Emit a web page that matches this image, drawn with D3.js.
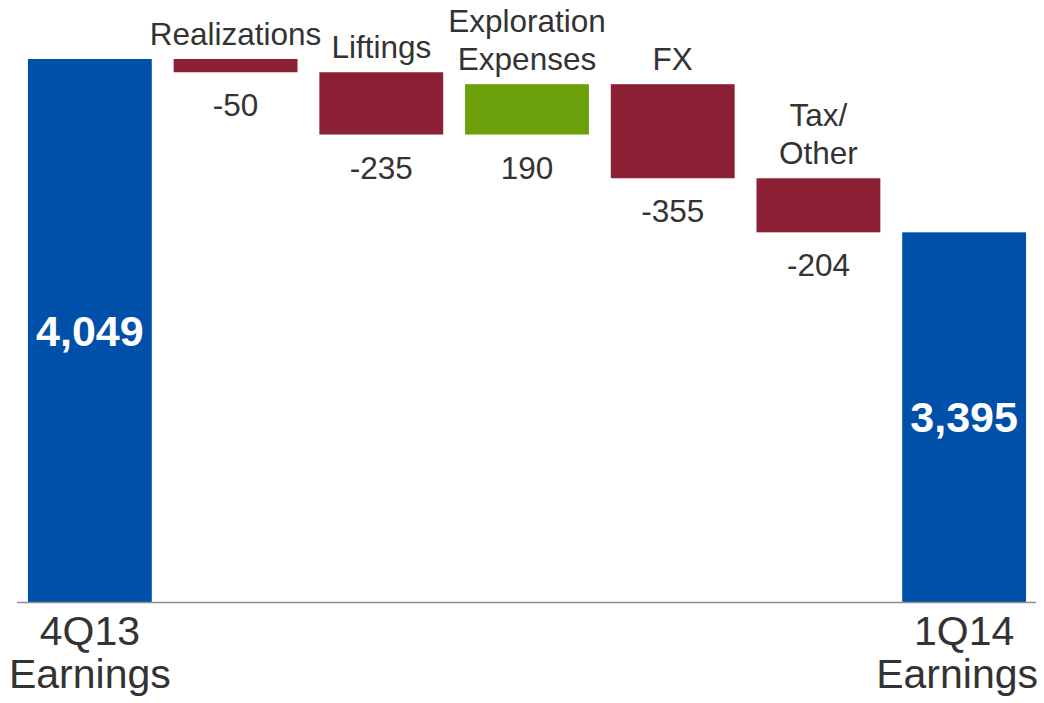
<!DOCTYPE html>
<html>
<head>
<meta charset="utf-8">
<script src="https://cdn.jsdelivr.net/npm/d3@7"></script>
<style>
  html, body { margin: 0; padding: 0; background: #fff; }
  svg { display: block; font-family: "Liberation Sans", Arial, sans-serif; }
</style>
</head>
<body>
<svg id="chart" width="1044" height="703"></svg>
<script>
// Earnings bridge, 4Q13 to 1Q14
const categories = ["4Q13 Earnings", "Realizations", "Liftings", "Exploration Expenses", "FX", "Tax/ Other", "1Q14 Earnings"];
const categoryLines = [["4Q13", "Earnings"], ["Realizations"], ["Liftings"], ["Exploration", "Expenses"], ["FX"], ["Tax/", "Other"], ["1Q14", "Earnings"]];
const values = [4049, -50, -235, 190, -355, -204, 3395];
const kinds = ["total", "delta", "delta", "delta", "delta", "delta", "total"];
const axisMin = 2000;

const colors = { total: "#0050AA", up: "#6CA00A", down: "#8B2035" };
const textColor = "#333333";
const W = 1044;

// running totals for the floating steps
let running = 0;
const bars = categories.map((c, i) => {
  const v = values[i];
  let start, end;
  if (kinds[i] === "total") { start = axisMin; end = v; running = v; }
  else { start = running; end = running + v; running = end; }
  return {
    cat: c, lines: categoryLines[i], value: v, kind: kinds[i],
    lo: Math.min(start, end), hi: Math.max(start, end)
  };
});

const svg = d3.select("#chart");
const baseY = 602;

const x = d3.scaleBand()
  .domain(categories)
  .range([17, 1037])
  .paddingInner(0.15)
  .paddingOuter(0.075);

const y = d3.scaleLinear()
  .domain([axisMin, d3.max(bars, d => d.hi)])
  .range([baseY, 59]);

// bars
svg.append("g").selectAll("rect")
  .data(bars)
  .join("rect")
  .attr("x", d => x(d.cat))
  .attr("width", x.bandwidth())
  .attr("y", d => y(d.hi))
  .attr("height", d => y(d.lo) - y(d.hi))
  .attr("fill", d => d.kind === "total" ? colors.total : (d.value >= 0 ? colors.up : colors.down));

// baseline
svg.append("line")
  .attr("x1", 17).attr("x2", 1036)
  .attr("y1", baseY + 0.5).attr("y2", baseY + 0.5)
  .attr("stroke", "#8c8c8c")
  .attr("stroke-width", 1.5);

const cx = d => x(d.cat) + x.bandwidth() / 2;
const deltas = bars.filter(d => d.kind === "delta");
const totals = bars.filter(d => d.kind === "total");

// step names above each floating bar
const nameFs = 31.5, nameLh = 38;
svg.append("g").selectAll("text")
  .data(deltas)
  .join("text")
  .attr("text-anchor", "middle")
  .attr("font-size", nameFs)
  .attr("fill", textColor)
  .each(function(d) {
    const t = d3.select(this);
    const n = d.lines.length;
    d.lines.forEach((ln, k) => {
      t.append("tspan")
        .attr("x", cx(d))
        .attr("y", y(d.hi) - 14 - (n - 1 - k) * nameLh)
        .text(ln);
    });
  });

// step values below each floating bar
svg.append("g").selectAll("text")
  .data(deltas)
  .join("text")
  .attr("x", cx)
  .attr("y", d => y(d.lo) + 44)
  .attr("text-anchor", "middle")
  .attr("font-size", 31.5)
  .attr("fill", textColor)
  .text(d => String(d.value));

// total values inside the end bars
const fmt = d3.format(",");
svg.append("g").selectAll("text")
  .data(totals)
  .join("text")
  .attr("x", cx)
  .attr("y", d => (y(d.hi) + y(d.lo)) / 2 + 15)
  .attr("text-anchor", "middle")
  .attr("font-size", 43)
  .attr("font-weight", "bold")
  .attr("fill", "#ffffff")
  .text(d => fmt(d.value));

// category labels under the end bars, kept inside the page edges
svg.append("g").selectAll("text")
  .data(totals)
  .join("text")
  .attr("text-anchor", "middle")
  .attr("font-size", 41)
  .attr("fill", textColor)
  .each(function(d) {
    const t = d3.select(this);
    d.lines.forEach((ln, k) => {
      const ts = t.append("tspan")
        .attr("x", cx(d))
        .attr("y", 645 + k * 43)
        .text(ln);
      const half = ts.node().getComputedTextLength() / 2;
      const c = Math.max(half + 6, Math.min(W - half - 6, cx(d)));
      ts.attr("x", c);
    });
  });
</script>
</body>
</html>
